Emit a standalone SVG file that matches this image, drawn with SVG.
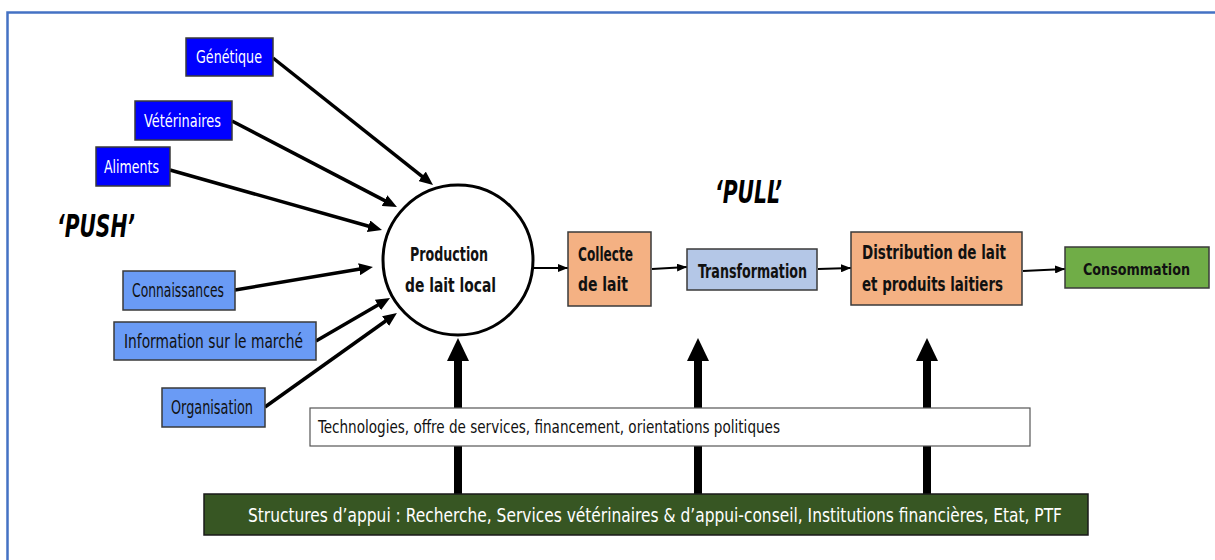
<svg xmlns="http://www.w3.org/2000/svg" width="1215" height="560" viewBox="0 0 1215 560">
<style>
.t{font-family:"DejaVu Sans Condensed","DejaVu Sans","Liberation Sans",sans-serif;font-stretch:condensed}
.lbl{font-size:19px;fill:#111}
.wl{font-size:18px;fill:#fff}
.b{font-weight:bold}
.box{stroke:#3a3a3a;stroke-width:1.5}
.thick{stroke:#000;stroke-width:3.5;fill:none}
.thin{stroke:#000;stroke-width:2;fill:none}
.up{stroke:#000;stroke-width:8;fill:none}
</style>
<defs>
<marker id="ah" markerUnits="userSpaceOnUse" viewBox="0 0 14 12" refX="4" refY="6" markerWidth="14" markerHeight="12" orient="auto"><path d="M0,0 L14,6 L0,12 z" fill="#000"/></marker>
<marker id="as" markerUnits="userSpaceOnUse" viewBox="0 0 10 8" refX="10" refY="4" markerWidth="10" markerHeight="8" orient="auto"><path d="M0,0 L10,4 L0,8 z" fill="#000"/></marker>
<marker id="au" markerUnits="userSpaceOnUse" viewBox="0 0 23 22" refX="11" refY="11" markerWidth="23" markerHeight="22" orient="auto"><path d="M0,0 L23,11 L0,22 z" fill="#000"/></marker>
</defs>
<rect width="1215" height="560" fill="#fff"/>
<path d="M7.5,560 V12.5 H1215" fill="none" stroke="#4472C4" stroke-width="2.5"/>

<g id="connectors">
<line class="thick" x1="273" y1="58" x2="425.2" y2="178.8" marker-end="url(#ah)"/>
<line class="thick" x1="232" y1="121" x2="388.1" y2="202.4" marker-end="url(#ah)"/>
<line class="thick" x1="170" y1="170" x2="372.4" y2="227.3" marker-end="url(#ah)"/>
<line class="thick" x1="235" y1="290" x2="363.1" y2="268.6" marker-end="url(#ah)"/>
<line class="thick" x1="316" y1="341" x2="381.4" y2="303" marker-end="url(#ah)"/>
<line class="thick" x1="265" y1="407" x2="388.8" y2="318.8" marker-end="url(#ah)"/>
<line class="thin" x1="534" y1="268" x2="568" y2="268" marker-end="url(#as)"/>
<line class="thin" x1="652" y1="269" x2="687" y2="267" marker-end="url(#as)"/>
<line class="thin" x1="818" y1="269" x2="851" y2="268" marker-end="url(#as)"/>
<line class="thin" x1="1023" y1="271" x2="1065" y2="269" marker-end="url(#as)"/>
<line class="up" x1="458" y1="494" x2="458" y2="350" marker-end="url(#au)"/>
<line class="up" x1="698" y1="494" x2="698" y2="350" marker-end="url(#au)"/>
<line class="up" x1="927" y1="494" x2="927" y2="350" marker-end="url(#au)"/>
</g>

<g id="genetique"><rect class="box" x="186" y="38" width="87" height="38" fill="#0000FF"/><text class="t wl" x="196" y="63" textLength="66" lengthAdjust="spacingAndGlyphs">Génétique</text></g>
<g id="veterinaires"><rect class="box" x="135" y="101" width="97" height="39" fill="#0000FF"/><text class="t wl" x="144" y="127" textLength="77" lengthAdjust="spacingAndGlyphs">Vétérinaires</text></g>
<g id="aliments"><rect class="box" x="96" y="147" width="74" height="39" fill="#0000FF"/><text class="t wl" x="104" y="173" textLength="55" lengthAdjust="spacingAndGlyphs">Aliments</text></g>
<g id="connaissances"><rect class="box" x="123" y="271" width="112" height="39" fill="#6A9BF5"/><text class="t lbl" x="132" y="297" textLength="92" lengthAdjust="spacingAndGlyphs">Connaissances</text></g>
<g id="information"><rect class="box" x="114" y="322" width="202" height="38" fill="#6A9BF5"/><text class="t lbl" x="124" y="348" textLength="179" lengthAdjust="spacingAndGlyphs">Information sur le marché</text></g>
<g id="organisation"><rect class="box" x="162" y="388" width="103" height="39" fill="#6A9BF5"/><text class="t lbl" x="171" y="414" textLength="82" lengthAdjust="spacingAndGlyphs">Organisation</text></g>

<text class="t b" x="57" y="237" font-size="32" font-style="italic" textLength="78" lengthAdjust="spacingAndGlyphs">‘PUSH’</text>
<text class="t b" x="715" y="203" font-size="32" font-style="italic" textLength="67" lengthAdjust="spacingAndGlyphs">‘PULL’</text>

<g id="production"><circle cx="458" cy="260" r="75" fill="#fff" stroke="#000" stroke-width="3"/>
<text class="t lbl b" x="410" y="261" textLength="78" lengthAdjust="spacingAndGlyphs">Production</text>
<text class="t lbl b" x="405" y="292" textLength="91" lengthAdjust="spacingAndGlyphs">de lait local</text></g>
<g id="collecte"><rect class="box" x="568" y="232" width="83" height="74" fill="#F4B183"/>
<text class="t lbl b" x="578" y="261" textLength="55" lengthAdjust="spacingAndGlyphs">Collecte</text>
<text class="t lbl b" x="578" y="291" textLength="50" lengthAdjust="spacingAndGlyphs">de lait</text></g>
<g id="transformation"><rect class="box" x="687" y="249" width="130" height="41" fill="#B4C7E7"/>
<text class="t lbl b" x="698" y="278" textLength="109" lengthAdjust="spacingAndGlyphs">Transformation</text></g>
<g id="distribution"><rect class="box" x="851" y="232" width="171" height="73" fill="#F4B183"/>
<text class="t lbl b" x="862" y="259" textLength="144" lengthAdjust="spacingAndGlyphs">Distribution de lait</text>
<text class="t lbl b" x="862" y="291" textLength="141" lengthAdjust="spacingAndGlyphs">et produits laitiers</text></g>
<g id="consommation"><rect class="box" x="1065" y="247" width="144" height="41" fill="#70AD47"/>
<text class="t b" x="1083" y="275" font-size="16" fill="#111" textLength="107" lengthAdjust="spacingAndGlyphs">Consommation</text></g>

<g id="technologies"><rect x="310" y="408" width="720" height="38" fill="#fff" stroke="#555" stroke-width="1.2"/>
<text class="t" x="318" y="433" font-size="17" fill="#111" textLength="462" lengthAdjust="spacingAndGlyphs">Technologies, offre de services,  financement, orientations politiques</text></g>
<g id="structures"><rect x="204" y="494" width="884" height="41" fill="#375623" stroke="#1a1a1a" stroke-width="1.5"/>
<text class="t" x="248" y="522" font-size="19" fill="#fff" textLength="814" lengthAdjust="spacingAndGlyphs">Structures d’appui : Recherche, Services  vétérinaires &amp; d’appui-conseil, Institutions financières, Etat, PTF</text></g>
</svg>
